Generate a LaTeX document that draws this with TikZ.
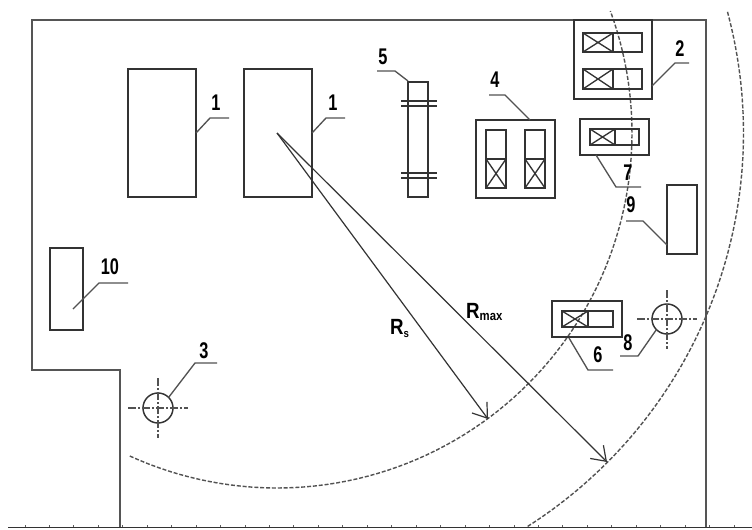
\documentclass[tikz,border=0pt]{standalone}
\usepackage{fontspec}
\setmainfont{Liberation Sans}
\usetikzlibrary{arrows.meta}
\definecolor{ink}{HTML}{333333}
\definecolor{wall}{HTML}{555555}
\tikzset{
  wallline/.style={draw=wall,line width=1.4pt},
  plantbox/.style={draw=ink,line width=1.1pt,inner sep=0pt,outer sep=0pt},
  thinpart/.style={draw=ink,line width=1pt},
  leader/.style={draw=ink!85,line width=1pt},
  radius line/.style={draw=ink,line width=0.9pt,-{Straight Barb[length=10pt,width=14pt,line width=0.9pt]}},
  zone/.style={draw=ink!85,line width=1.05pt,dash pattern=on 3pt off 1.4pt},
  axis line/.style={draw=ink!85,line width=0.95pt,dash pattern=on 6pt off 1.5pt on 1.5pt off 1.5pt},
  hoistring/.style={draw=ink,line width=1.1pt,circle,minimum size=22.5pt,inner sep=0pt,outer sep=0pt},
  tag/.style={text=black,font=\bfseries\fontsize{17pt}{17pt}\selectfont,xscale=0.72,inner sep=0pt},
  rtag/.style={text=black,font=\bfseries\fontsize{16.5pt}{16.5pt}\selectfont,xscale=0.85,inner sep=0pt}
}
\newcommand{\plantrect}[5]{\node[plantbox,minimum width={(#4-#2)*0.75pt},minimum height={(#5-#3)*0.75pt}] (#1) at ({(#2+#4)/2},{(#3+#5)/2}) {};}
\newcommand{\hwind}[5]{%
  \draw[thinpart] (#1,#2) rectangle (#4,#5);
  \draw[thinpart] (#3,#2) -- (#3,#5);
  \draw[thinpart] (#1,#2) -- (#3,#5) (#1,#5) -- (#3,#2);}
\newcommand{\vwind}[5]{%
  \draw[thinpart] (#1,#2) rectangle (#4,#5);
  \draw[thinpart] (#1,#3) -- (#4,#3);
  \draw[thinpart] (#1,#3) -- (#4,#5) (#4,#3) -- (#1,#5);}
\begin{document}
\begin{tikzpicture}[x=0.75pt,y=-0.75pt]
\useasboundingbox[fill=white] (0,0) rectangle (752,529);
% building outline
\draw[wallline,line join=miter] (120,527) -- (120,370) -- (32,370) -- (32,20) -- (706,20) -- (706,527);
% ground line
\draw[draw=ink,line width=1pt] (8,527.5) -- (752,527.5);
\foreach \i in {0,...,29} \draw[draw=ink!80,line width=0.7pt] ({25+24.45*\i},527) -- ({25+24.45*\i},524.5);
% centre of the radii
\coordinate (centre) at (277,133);
% zones
\draw[zone] plot[domain=114.5:-20.1,samples=80] ({277+355*cos(\x)},{133+355*sin(\x)});
\draw[zone] plot[domain=57.5:-15.1,samples=80] ({277+466.5*cos(\x)},{133+466.5*sin(\x)});
% boxes
\plantrect{a}{128}{69}{196}{197}
\plantrect{b}{244}{69}{312}{197}
\plantrect{e}{408}{82}{428}{197}
\draw[thinpart] (401,101) -- (437,101) (401,106) -- (437,106) (401,173) -- (437,173) (401,178) -- (437,178);
\plantrect{d}{476}{120}{555}{198}
\vwind{486}{130}{159}{506}{188}
\vwind{525}{130}{159}{545}{188}
\plantrect{c}{574}{20}{652}{99}
\hwind{583}{33}{613}{642}{52}
\hwind{583}{69}{613}{642}{89}
\plantrect{g}{580}{119}{649}{155}
\hwind{590}{129}{615}{639}{145}
\plantrect{i}{667}{185}{697}{254}
\plantrect{f}{552}{301}{622}{337}
\hwind{562}{311}{588}{613}{327}
\plantrect{j}{50}{248}{83}{330}
% hoists
\node[hoistring] (h) at (667,319) {};
\draw[axis line] (637,319) -- (697,319);
\draw[axis line] (667,290) -- (667,349);
\node[hoistring] (k) at (158,408) {};
\draw[axis line] (128,408) -- (188,408);
\draw[axis line] (158,378) -- (158,438);
% radii
\coordinate (rsend) at (488,419);
\coordinate (rmend) at (607,462);
\draw[radius line] (centre) -- (rsend);
\draw[radius line] (centre) -- (rmend);
% leaders
\coordinate (l1a) at (210,118); \coordinate (e1a) at (229,118);
\coordinate (l1b) at (326,118); \coordinate (e1b) at (345,118);
\coordinate (l5) at (395,71); \coordinate (e5) at (377,71); \coordinate (s5) at (408,81);
\coordinate (l4) at (505,95); \coordinate (e4) at (489,95); \coordinate (s4) at (530,120);
\coordinate (l2) at (675,63); \coordinate (e2) at (689,63); \coordinate (s2) at (652,86);
\coordinate (l7) at (616,187); \coordinate (e7) at (641,187); \coordinate (s7) at (596,155);
\coordinate (l9) at (643,221); \coordinate (e9) at (626,221); \coordinate (s9) at (667,245);
\coordinate (l6) at (588,370); \coordinate (e6) at (613,370); \coordinate (s6) at (569,338);
\coordinate (l8) at (638,356); \coordinate (e8) at (620,356);
\coordinate (l3) at (195,363); \coordinate (e3) at (217,363);
\coordinate (l10) at (99,283); \coordinate (e10) at (128,283); \coordinate (s10) at (73,309);
\draw[leader] (a.east) -- (l1a) -- (e1a);
\draw[leader] (b.east) -- (l1b) -- (e1b);
\draw[leader] (s5) -- (l5) -- (e5);
\draw[leader] (s4) -- (l4) -- (e4);
\draw[leader] (s2) -- (l2) -- (e2);
\draw[leader] (s7) -- (l7) -- (e7);
\draw[leader] (s9) -- (l9) -- (e9);
\draw[leader] (s6) -- (l6) -- (e6);
\draw[leader] (h.-135) -- (l8) -- (e8);
\draw[leader] (k.45) -- (l3) -- (e3);
\draw[leader] (s10) -- (l10) -- (e10);
% labels
\node[tag] (t1a) at (216,103) {1};
\node[tag] (t1b) at (333,103) {1};
\node[tag] (t5) at (383,57) {5};
\node[tag] (t4) at (495,80) {4};
\node[tag] (t2) at (680,49) {2};
\node[tag] (t7) at (628,173) {7};
\node[tag] (t9) at (631,205) {9};
\node[tag] (t6) at (598,355) {6};
\node[tag] (t8) at (628,343) {8};
\node[tag] (t3) at (204,351) {3};
\node[tag] (t10) at (110,267) {10};
\node[rtag,anchor=base west] (rs) at (390,334) {R\raisebox{-2.5pt}{\fontsize{8.5pt}{8.5pt}\selectfont s}};
\node[rtag,anchor=base west] (rm) at (466,318) {R\raisebox{-2pt}{\fontsize{10pt}{10pt}\selectfont max}};
\end{tikzpicture}
\end{document}
